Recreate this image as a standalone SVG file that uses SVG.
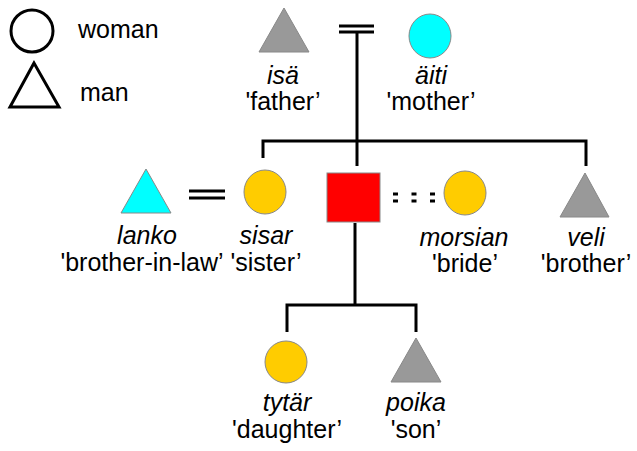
<svg xmlns="http://www.w3.org/2000/svg" width="637" height="451" viewBox="0 0 637 451">
<style>
text{font-family:"Liberation Sans",Arial,sans-serif;font-size:25px;fill:#000;text-anchor:middle}
.it{font-style:italic}
.leg{text-anchor:start}
.ln{stroke:#000;stroke-width:3;fill:none}
.shape{stroke:#888;stroke-width:1}
.gray{fill:#999999}
.cyan{fill:#00FFFF}
.yel{fill:#FFCC00}
.red{fill:#FF0000}
.lg{fill:none;stroke:#000;stroke-width:3}
</style>
<rect width="637" height="451" fill="#fff"/>
<g id="legend">
<circle class="lg" cx="32" cy="31" r="21"/>
<text class="leg" x="78" y="38">woman</text>
<polygon class="lg" points="34,63 10,107 59,107"/>
<text class="leg" x="80" y="101">man</text>
</g>
<g id="connectors">
<path class="ln" d="M339,26H374M339,32H374"/>
<path class="ln" d="M357,32V166"/>
<path class="ln" d="M263,158V141H586V166"/>
<path class="ln" d="M189,191H225M189,198H225"/>
<path class="ln" d="M393,194H438M393,201H438" stroke-dasharray="5 13.5"/>
<path class="ln" d="M355,223V305"/>
<path class="ln" d="M287,332V305H416V332"/>
</g>
<g id="isa">
<polygon class="shape gray" points="284,8 259,52 309,52"/>
<text class="it" x="283" y="84">isä</text>
<text x="283" y="110">'father’</text>
</g>
<g id="aiti">
<ellipse class="shape cyan" cx="430" cy="36" rx="21" ry="22"/>
<text class="it" x="431" y="84">äiti</text>
<text x="431" y="110">'mother’</text>
</g>
<g id="lanko">
<polygon class="shape cyan" points="146,169 121,213 171,213"/>
<text class="it" x="147" y="244">lanko</text>
<text x="142" y="271">'brother-in-law’</text>
</g>
<g id="sisar">
<ellipse class="shape yel" cx="265" cy="192" rx="21" ry="22"/>
<text class="it" x="266" y="244">sisar</text>
<text x="266" y="271">'sister’</text>
</g>
<g id="ego">
<rect class="shape red" x="327" y="173" width="53" height="49"/>
</g>
<g id="morsian">
<ellipse class="shape yel" cx="465" cy="193" rx="21" ry="22"/>
<text class="it" x="464" y="246">morsian</text>
<text x="465" y="272">'bride’</text>
</g>
<g id="veli">
<polygon class="shape gray" points="585,173 560,217 609,217"/>
<text class="it" x="586" y="246">veli</text>
<text x="586" y="272">'brother’</text>
</g>
<g id="tytar">
<ellipse class="shape yel" cx="286" cy="362" rx="21" ry="21"/>
<text class="it" x="287" y="411">tytär</text>
<text x="287" y="438">'daughter’</text>
</g>
<g id="poika">
<polygon class="shape gray" points="416,338 391,382 441,382"/>
<text class="it" x="416" y="411">poika</text>
<text x="416" y="438">'son’</text>
</g>
</svg>
